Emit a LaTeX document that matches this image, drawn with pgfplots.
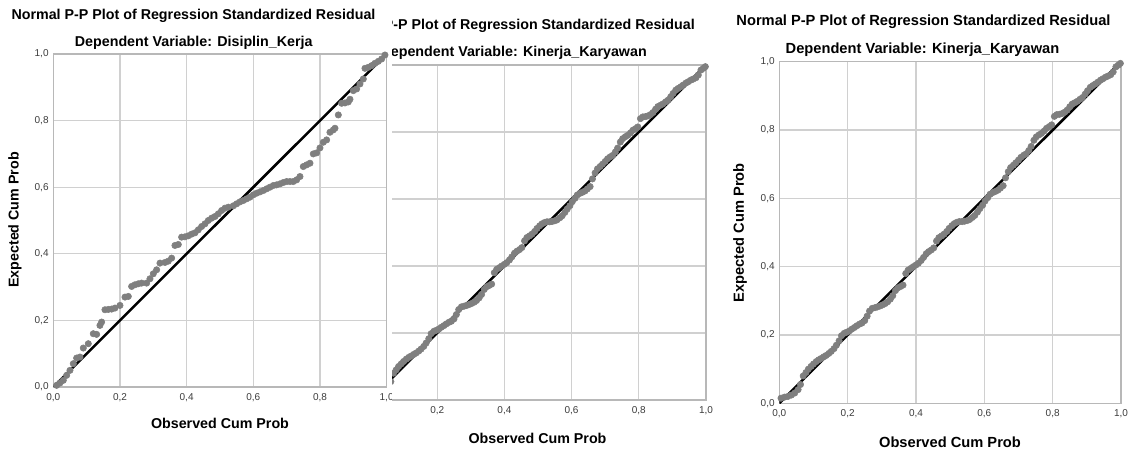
\documentclass[border=0pt]{standalone}
\usepackage{pgfplots}
\pgfplotsset{compat=1.18}
\usepackage{fontspec}
\setmainfont{Liberation Sans}
\definecolor{ppgrid}{HTML}{D0D0D0}
\definecolor{ppframe}{HTML}{B8B8B8}
\definecolor{ppdot}{HTML}{7F7F7F}
\definecolor{pptick}{HTML}{3C3C3C}
\pgfplotsset{
  pp/.style={
    scale only axis, anchor=south west,
    xmin=0, xmax=1, ymin=0, ymax=1,
    xtick={0,0.2,0.4,0.6,0.8,1}, ytick={0,0.2,0.4,0.6,0.8,1},
    xticklabels={{0,0},{0,2},{0,4},{0,6},{0,8},{1,0}},
    yticklabels={{0,0},{0,2},{0,4},{0,6},{0,8},{1,0}},
    grid=major, grid style={ppgrid, line width=0.9pt},
    axis line style={ppframe, line width=0.9pt},
    major tick length=0pt,
    tick label style={font=\fontsize{7.5}{8}\selectfont, text=pptick},
    xticklabel style={yshift=-1pt},
    /pgf/number format/assume math mode=true,
  },
  dots/.style={only marks, mark=*, mark size=2.4pt, ppdot, mark options={draw=none, fill=ppdot}},
  diag/.style={black, line width=1.9pt, no marks},
}
% residuals of the Kinerja_Karyawan model (shown twice)
\pgfplotstableread{
x y
0.005 0.015
0.015 0.018
0.025 0.02
0.035 0.024
0.045 0.03
0.055 0.04
0.062 0.055
0.07 0.08
0.078 0.09
0.085 0.1
0.093 0.108
0.1 0.115
0.108 0.122
0.115 0.127
0.122 0.131
0.13 0.136
0.137 0.14
0.145 0.146
0.152 0.152
0.16 0.16
0.167 0.17
0.175 0.183
0.182 0.198
0.19 0.205
0.197 0.208
0.205 0.212
0.212 0.217
0.22 0.222
0.227 0.227
0.235 0.232
0.242 0.235
0.25 0.242
0.257 0.255
0.264 0.27
0.272 0.278
0.28 0.28
0.287 0.282
0.295 0.285
0.302 0.288
0.31 0.292
0.317 0.297
0.325 0.305
0.332 0.315
0.34 0.33
0.347 0.338
0.355 0.342
0.362 0.346
0.37 0.38
0.377 0.39
0.385 0.395
0.392 0.4
0.4 0.405
0.407 0.41
0.415 0.418
0.422 0.427
0.43 0.438
0.437 0.444
0.445 0.449
0.452 0.455
0.46 0.475
0.467 0.485
0.475 0.49
0.482 0.495
0.49 0.503
0.497 0.512
0.505 0.52
0.512 0.526
0.52 0.53
0.527 0.532
0.535 0.532
0.542 0.533
0.55 0.535
0.557 0.538
0.565 0.544
0.572 0.55
0.58 0.56
0.587 0.57
0.595 0.58
0.602 0.592
0.61 0.602
0.617 0.612
0.625 0.617
0.632 0.62
0.64 0.624
0.647 0.63
0.655 0.637
0.662 0.66
0.67 0.678
0.677 0.69
0.685 0.697
0.692 0.704
0.7 0.712
0.707 0.72
0.715 0.726
0.722 0.73
0.73 0.74
0.737 0.752
0.745 0.77
0.752 0.78
0.76 0.786
0.767 0.79
0.775 0.797
0.782 0.805
0.79 0.81
0.797 0.815
0.805 0.84
0.812 0.845
0.82 0.846
0.827 0.848
0.835 0.852
0.842 0.858
0.85 0.868
0.857 0.876
0.865 0.88
0.872 0.884
0.88 0.89
0.887 0.895
0.895 0.905
0.902 0.915
0.91 0.925
0.917 0.93
0.925 0.935
0.932 0.94
0.94 0.946
0.947 0.95
0.955 0.955
0.962 0.958
0.97 0.962
0.977 0.97
0.985 0.985
0.992 0.99
0.998 0.995
}\kinerja
\newcommand{\ttl}{\fontsize{10.7}{12}\selectfont\bfseries}
\newcommand{\ttlb}{\fontsize{11}{12}\selectfont\bfseries}
\begin{document}
\begin{tikzpicture}[x=0.75pt, y=0.75pt]
\useasboundingbox (0,0) rectangle (1128,453);
\coordinate (a1) at (53.3,66);
\coordinate (a2) at (370,53);
\coordinate (a3) at (779.3,49.7);

% ---- panel 1: Disiplin_Kerja ----
\begin{axis}[pp, at={(a1)}, width=250pt, height=249.75pt]
\addplot[dots] coordinates {
(0.01,0.005)(0.02,0.012)(0.03,0.02)(0.04,0.035)(0.05,0.05)(0.06,0.07)(0.07,0.087)(0.08,0.09)
(0.09,0.117)(0.105,0.13)(0.12,0.16)(0.13,0.158)(0.14,0.185)(0.145,0.195)(0.155,0.232)(0.165,0.233)
(0.175,0.234)(0.185,0.237)(0.2,0.245)(0.215,0.27)(0.225,0.272)(0.235,0.302)(0.245,0.307)(0.255,0.31)
(0.265,0.312)(0.28,0.312)(0.29,0.325)(0.3,0.34)(0.31,0.352)(0.32,0.372)(0.335,0.374)(0.345,0.378)
(0.355,0.387)(0.365,0.425)(0.375,0.428)(0.385,0.45)(0.395,0.451)(0.405,0.454)(0.415,0.459)(0.425,0.463)
(0.435,0.472)(0.445,0.482)(0.455,0.49)(0.465,0.5)(0.475,0.507)(0.485,0.512)(0.495,0.52)(0.505,0.53)
(0.515,0.537)(0.525,0.54)(0.54,0.544)(0.55,0.55)(0.56,0.556)(0.57,0.56)(0.58,0.565)(0.59,0.57)
(0.6,0.577)(0.61,0.582)(0.62,0.586)(0.63,0.59)(0.64,0.595)(0.65,0.6)(0.66,0.605)(0.67,0.607)
(0.68,0.61)(0.69,0.614)(0.7,0.617)(0.71,0.617)(0.72,0.617)(0.73,0.622)(0.74,0.632)(0.75,0.662)
(0.76,0.667)(0.77,0.672)(0.78,0.7)(0.79,0.703)(0.8,0.718)(0.81,0.735)(0.82,0.742)(0.83,0.765)
(0.84,0.772)(0.845,0.777)(0.855,0.817)(0.865,0.852)(0.875,0.853)(0.885,0.856)(0.89,0.864)(0.9,0.89)
(0.91,0.895)(0.92,0.91)(0.93,0.925)(0.935,0.957)(0.945,0.96)(0.955,0.965)(0.965,0.972)(0.975,0.978)
(0.985,0.985)(0.995,0.997)
};
\addplot[diag] coordinates {(0,0)(1,1)};
\end{axis}
\node[font=\ttl] at (193.5,437) {Normal P-P Plot of Regression Standardized Residual};
\node[font=\ttl] at (193.7,410) {Dependent Variable: Disiplin\_Kerja};
\node[font=\ttl, rotate=90] at (15,233) {Expected Cum Prob};
\node[font=\ttl] at (220,30) {Observed Cum Prob};

% ---- panel 2: Kinerja_Karyawan (cut on the left) ----
\begin{scope}
\clip (392,0) rectangle (712,453);
\fill[white] (392,0) rectangle (712,453);
\begin{axis}[pp, at={(a2)}, width=252pt, height=251.25pt]
\addplot[dots] table {\kinerja};
\addplot[diag] coordinates {(0,0)(1,1)};
\end{axis}
\node[font=\ttl, anchor=east, inner sep=0pt] at (695,427) {Normal P-P Plot of Regression Standardized Residual};
\node[font=\ttl, anchor=east, inner sep=0pt] at (647,400) {Dependent Variable: Kinerja\_Karyawan};
\node[font=\ttl] at (537.5,15) {Observed Cum Prob};
\end{scope}

% ---- panel 3: Kinerja_Karyawan ----
\begin{axis}[pp, at={(a3)}, width=256.3pt, height=256.2pt]
\addplot[dots] table {\kinerja};
\addplot[diag] coordinates {(0,0)(1,1)};
\end{axis}
\node[font=\ttlb] at (923.5,431) {Normal P-P Plot of Regression Standardized Residual};
\node[font=\ttlb] at (922.5,403) {Dependent Variable: Kinerja\_Karyawan};
\node[font=\ttlb, rotate=90] at (740,220) {Expected Cum Prob};
\node[font=\ttlb] at (950,11) {Observed Cum Prob};
\end{tikzpicture}
\end{document}
